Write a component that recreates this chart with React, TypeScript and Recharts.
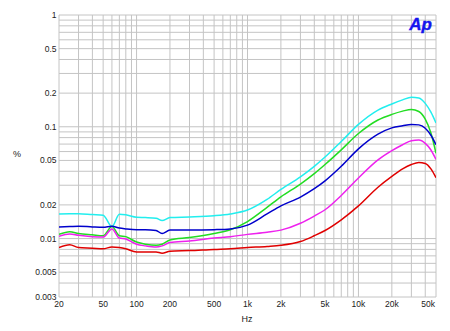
import React from 'react';
import { LineChart, Line, XAxis, YAxis, CartesianGrid } from 'recharts';

// frequency points (Hz) and THD+N (%) per trace
const FREQ = [20, 25, 30, 40, 50, 60, 70, 80, 100, 120, 150, 170, 200, 300, 500, 700, 1000, 1500, 2000, 3000, 4000, 5000, 7000, 10000, 15000, 20000, 25000, 30000, 35000, 40000, 45000, 50000];
const CYAN = [0.0166, 0.0167, 0.0167, 0.0164, 0.0162, 0.0128, 0.0165, 0.0163, 0.0155, 0.0154, 0.0152, 0.0145, 0.0154, 0.0156, 0.016, 0.0166, 0.018, 0.0224, 0.0275, 0.0357, 0.0443, 0.0536, 0.0738, 0.105, 0.141, 0.16, 0.174, 0.184, 0.181, 0.162, 0.135, 0.108];
const GREEN = [0.0109, 0.0115, 0.0111, 0.0108, 0.0106, 0.0128, 0.0106, 0.0104, 0.0093, 0.0089, 0.0087, 0.0089, 0.0097, 0.0102, 0.0111, 0.012, 0.0142, 0.019, 0.0236, 0.0307, 0.0381, 0.046, 0.0622, 0.087, 0.115, 0.129, 0.138, 0.143, 0.137, 0.117, 0.088, 0.058];
const BLUE = [0.0127, 0.0128, 0.0129, 0.0127, 0.0126, 0.0129, 0.0124, 0.0122, 0.012, 0.012, 0.0118, 0.0111, 0.0119, 0.0119, 0.012, 0.0122, 0.0132, 0.0166, 0.0196, 0.0235, 0.0279, 0.0328, 0.0443, 0.0634, 0.0859, 0.0977, 0.102, 0.105, 0.104, 0.097, 0.084, 0.069];
const MAGENTA = [0.0105, 0.011, 0.0107, 0.0104, 0.0103, 0.0122, 0.0101, 0.0099, 0.0089, 0.0086, 0.0084, 0.0086, 0.0092, 0.0095, 0.0101, 0.0104, 0.0109, 0.0114, 0.0119, 0.0137, 0.0159, 0.0181, 0.0243, 0.0348, 0.0505, 0.0611, 0.069, 0.075, 0.076, 0.071, 0.062, 0.051];
const RED = [0.0083, 0.0088, 0.0083, 0.0082, 0.0081, 0.0084, 0.0083, 0.0081, 0.0076, 0.0076, 0.0076, 0.0074, 0.0077, 0.0078, 0.008, 0.0081, 0.0083, 0.0085, 0.0087, 0.0094, 0.0106, 0.0118, 0.0147, 0.0196, 0.0288, 0.036, 0.042, 0.046, 0.048, 0.047, 0.042, 0.035];

const X_GRID = [20, 30, 40, 50, 60, 70, 80, 90, 100, 200, 300, 400, 500, 600, 700, 800, 900, 1000, 2000, 3000, 4000, 5000, 6000, 7000, 8000, 9000, 10000, 20000, 30000, 40000, 50000];
const X_LABEL_VALUES = [20, 50, 100, 200, 500, 1000, 2000, 5000, 10000, 20000, 50000];
const X_LABEL_TEXT = ['20', '50', '100', '200', '500', '1k', '2k', '5k', '10k', '20k', '50k'];
const Y_GRID = [0.003, 0.004, 0.005, 0.006, 0.007, 0.008, 0.009, 0.01, 0.02, 0.03, 0.04, 0.05, 0.06, 0.07, 0.08, 0.09, 0.1, 0.2, 0.3, 0.4, 0.5, 0.6, 0.7, 0.8, 0.9, 1];
const Y_LABEL_VALUES = [0.003, 0.005, 0.01, 0.02, 0.05, 0.1, 0.2, 0.5, 1];

const data = FREQ.map((f, i) => ({
  f,
  cyan: CYAN[i],
  green: GREEN[i],
  blue: BLUE[i],
  magenta: MAGENTA[i],
  red: RED[i],
}));

const FONT = '"Liberation Sans", Arial, sans-serif';

const XTick = (props: any) => {
  const { x, y, payload } = props;
  const idx = X_LABEL_VALUES.indexOf(payload.value);
  if (idx < 0) return <g />;
  const last = idx === X_LABEL_VALUES.length - 1;
  return (
    <text x={last ? x - 1 : x} y={y} textAnchor={last ? 'end' : 'middle'} fontSize={8.5} fontFamily={FONT} fill="#222">
      {X_LABEL_TEXT[idx]}
    </text>
  );
};

const YTick = (props: any) => {
  const { x, y, payload } = props;
  if (!Y_LABEL_VALUES.includes(payload.value)) return <g />;
  return (
    <text x={x} y={y} dy="0.35em" textAnchor="end" fontSize={8.5} fontFamily={FONT} fill="#222">
      {String(payload.value)}
    </text>
  );
};

const SERIES = [
  { key: 'cyan', color: '#22eeee' },
  { key: 'green', color: '#22dd22' },
  { key: 'blue', color: '#0000cc' },
  { key: 'magenta', color: '#ee22ee' },
  { key: 'red', color: '#e00000' },
];

export default function App() {
  return (
    <div style={{ position: 'relative', width: 450, height: 331, background: '#fff' }}>
      <style>{`body{margin:0}`}</style>
      <LineChart width={450} height={331} data={data} margin={{ top: 15, right: 14, bottom: 0, left: 0 }}>
        <CartesianGrid stroke="#c4c4c4" />
        <XAxis
          dataKey="f"
          type="number"
          scale="log"
          domain={[20, 50000]}
          allowDataOverflow
          ticks={X_GRID}
          interval={0}
          height={34}
          tickSize={0}
          tickMargin={10}
          tickLine={false}
          axisLine={false}
          tick={<XTick />}
        />
        <YAxis
          type="number"
          scale="log"
          domain={[0.003, 1]}
          allowDataOverflow
          ticks={Y_GRID}
          interval={0}
          width={59}
          tickSize={0}
          tickMargin={2.5}
          tickLine={false}
          axisLine={false}
          tick={<YTick />}
        />
        {SERIES.map((s) => (
          <Line
            key={s.key}
            dataKey={s.key}
            type="monotone"
            stroke={s.color}
            strokeWidth={1.5}
            dot={false}
            isAnimationActive={false}
          />
        ))}
      </LineChart>
      <svg width={450} height={331} style={{ position: 'absolute', left: 0, top: 0, pointerEvents: 'none' }}>
        <text x={17} y={157} textAnchor="middle" fontSize={9} fontFamily={FONT} fill="#222">%</text>
        <text x={247} y={322} textAnchor="middle" fontSize={9} fontFamily={FONT} fill="#222">Hz</text>
        <text x={432} y={30} textAnchor="end" fontSize={17} fontWeight="bold" fontStyle="italic" fontFamily={FONT} fill="#1414ee" stroke="#1414ee" strokeWidth={0.4}>Ap</text>
      </svg>
    </div>
  );
}
